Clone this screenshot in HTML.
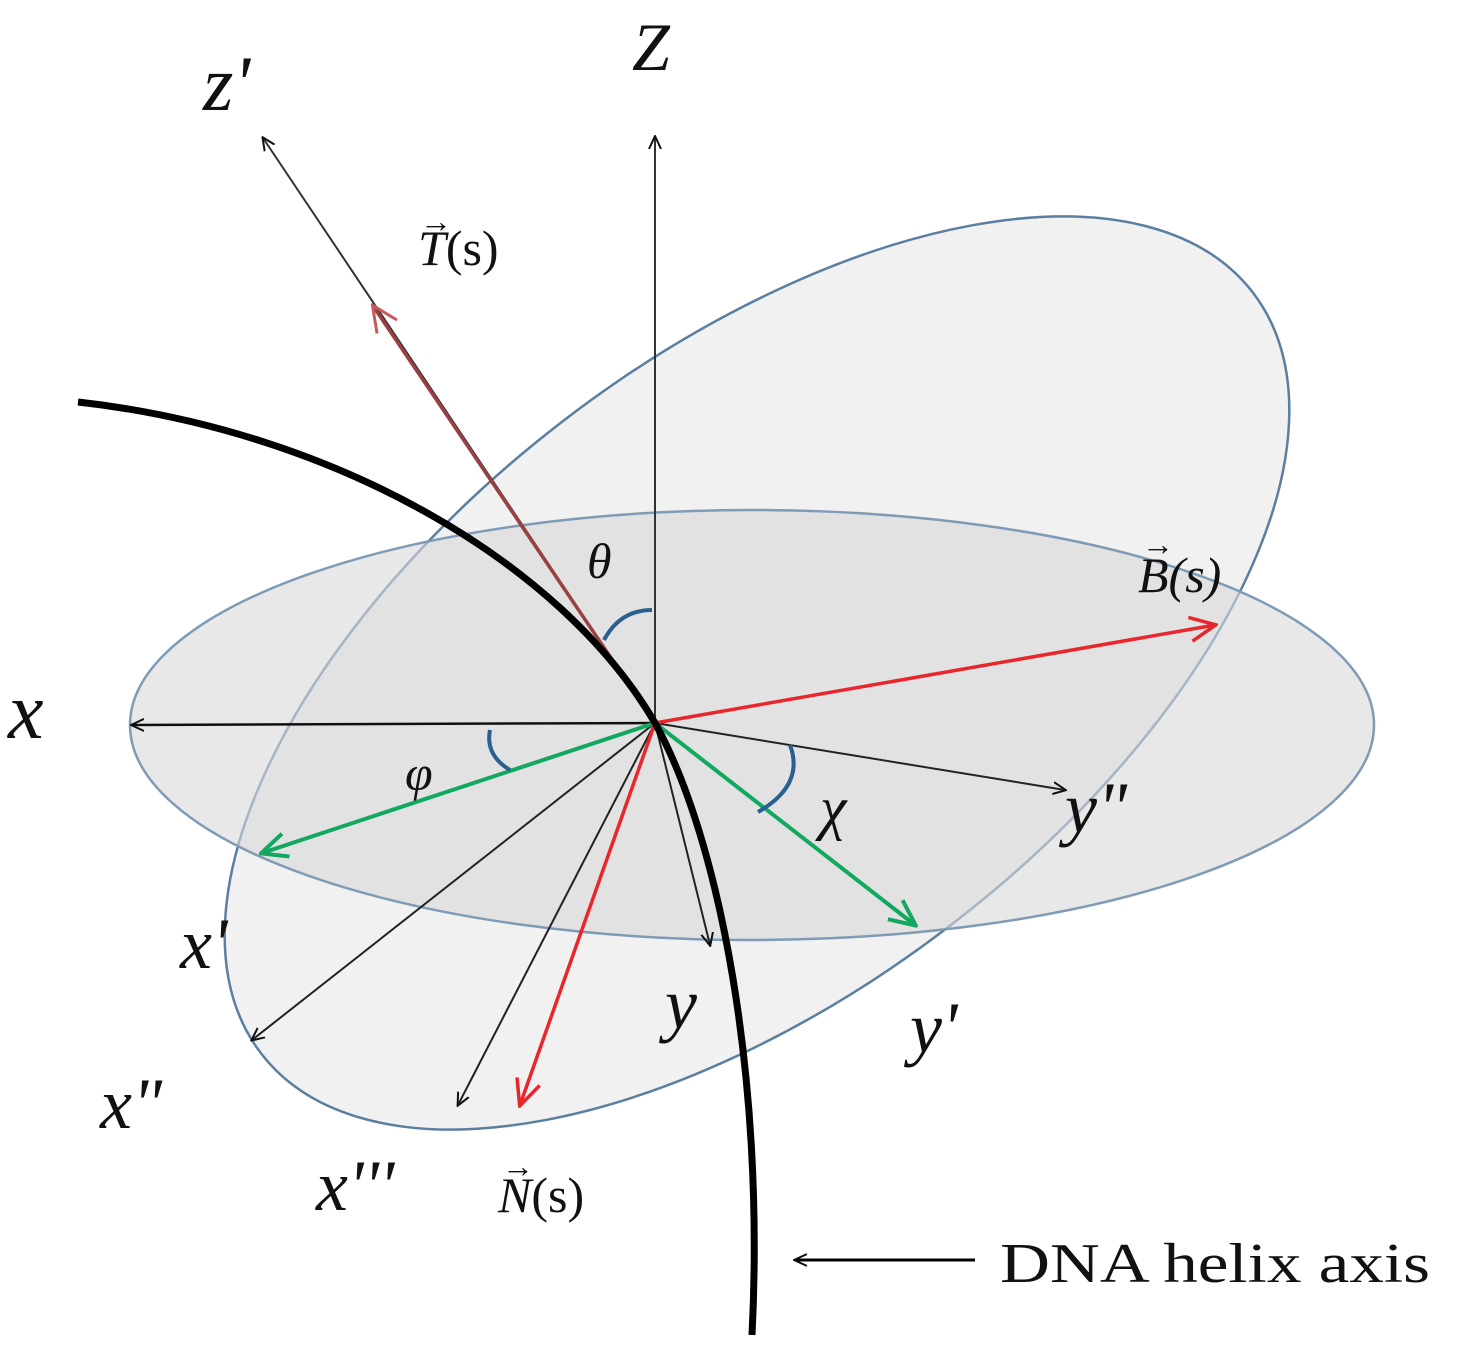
<!DOCTYPE html>
<html><head><meta charset="utf-8"><style>html,body{margin:0;padding:0;background:#fff}svg{display:block}</style></head>
<body>
<svg width="1460" height="1360" viewBox="0 0 1460 1360" xmlns="http://www.w3.org/2000/svg" font-family="'Liberation Serif', serif">
<defs>
<marker id="ak" markerWidth="14" markerHeight="14" refX="12" refY="7" orient="auto" markerUnits="userSpaceOnUse"><path d="M0,1 L13,7 L0,13" fill="none" stroke="#111" stroke-width="2"/></marker>
<marker id="ar" markerWidth="30" markerHeight="30" refX="27" refY="15" orient="auto" markerUnits="userSpaceOnUse"><path d="M2,3 L28,15 L2,27" fill="none" stroke="#e8262b" stroke-width="3.5"/></marker>
<marker id="ag" markerWidth="30" markerHeight="30" refX="27" refY="15" orient="auto" markerUnits="userSpaceOnUse"><path d="M2,3 L28,15 L2,27" fill="none" stroke="#12a860" stroke-width="4"/></marker>
<marker id="at" markerWidth="30" markerHeight="30" refX="27" refY="15" orient="auto" markerUnits="userSpaceOnUse"><path d="M2,3 L28,15 L2,27" fill="none" stroke="#c85a5a" stroke-width="3"/></marker>
</defs>
<ellipse cx="757" cy="673" rx="625" ry="318" transform="rotate(-37.5 757 673)" fill="#ededed" fill-opacity="0.8" stroke="#5a7fa0" stroke-width="2.5"/>
<ellipse cx="752" cy="725" rx="622" ry="215" fill="#d9d9db" fill-opacity="0.6" stroke="#7f9bb5" stroke-width="2.5"/>
<line x1="655" y1="723" x2="655" y2="137" stroke="#333" stroke-width="2" marker-end="url(#ak)"/>
<line x1="655" y1="723" x2="263" y2="138" stroke="#333" stroke-width="2" marker-end="url(#ak)"/>
<line x1="655" y1="723" x2="373" y2="306" stroke="#9a4040" stroke-width="3.5" marker-end="url(#at)"/>
<line x1="655" y1="723" x2="132" y2="725" stroke="#111" stroke-width="2.5" marker-end="url(#ak)"/>
<line x1="655" y1="723" x2="1065" y2="790" stroke="#222" stroke-width="2" marker-end="url(#ak)"/>
<line x1="655" y1="723" x2="710" y2="945" stroke="#222" stroke-width="2" marker-end="url(#ak)"/>
<line x1="655" y1="723" x2="252" y2="1040" stroke="#222" stroke-width="2" marker-end="url(#ak)"/>
<line x1="655" y1="723" x2="458" y2="1105" stroke="#222" stroke-width="2" marker-end="url(#ak)"/>
<line x1="655" y1="723" x2="1215" y2="625" stroke="#e8262b" stroke-width="3.5" marker-end="url(#ar)"/>
<line x1="655" y1="723" x2="520" y2="1105" stroke="#e8262b" stroke-width="3.5" marker-end="url(#ar)"/>
<line x1="655" y1="723" x2="262" y2="853" stroke="#12a860" stroke-width="4" marker-end="url(#ag)"/>
<line x1="655" y1="723" x2="915" y2="925" stroke="#12a860" stroke-width="4" marker-end="url(#ag)"/>
<path d="M78,402 C330,430 560,560 655,723 C720,840 765,1080 752,1335" fill="none" stroke="#000" stroke-width="7"/>
<path d="M604,640 Q620,610 652,610" fill="none" stroke="#2a6090" stroke-width="4"/>
<path d="M490,730 Q485,755 510,770" fill="none" stroke="#2a6090" stroke-width="4"/>
<path d="M790,745 Q805,785 758,812" fill="none" stroke="#2a6090" stroke-width="4"/>
<line x1="975" y1="1260" x2="795" y2="1260" stroke="#000" stroke-width="3" marker-end="url(#ak)"/>
<g font-style="italic" fill="#111">
<text x="632" y="70" font-size="68">Z</text>
<text x="203" y="110" font-size="78">z'</text>
<text x="8" y="738" font-size="80">x</text>
<text x="587" y="578" font-size="50">θ</text>
<text x="405" y="790" font-size="50">φ</text>
<text x="820" y="828" font-size="60">χ</text>
<text x="1065" y="832" font-size="72">y"</text>
<text x="180" y="968" font-size="72">x'</text>
<text x="665" y="1028" font-size="72">y</text>
<text x="910" y="1052" font-size="72">y'</text>
<text x="100" y="1128" font-size="72">x"</text>
<text x="316" y="1210" font-size="72">x'''</text>
<text x="418" y="265" font-size="50">T<tspan font-style="normal">(s)</tspan></text>
<text x="1138" y="592" font-size="50">B(s)</text>
<text x="498" y="1212" font-size="50">N<tspan font-style="normal">(s)</tspan></text>
</g>
<g font-size="32" fill="#111"><text x="420" y="232">→</text><text x="1142" y="555">→</text><text x="502" y="1177">→</text></g>
<text x="1000" y="1282" font-size="56" fill="#111" textLength="430" lengthAdjust="spacingAndGlyphs">DNA  helix axis</text>
</svg>
</body></html>
